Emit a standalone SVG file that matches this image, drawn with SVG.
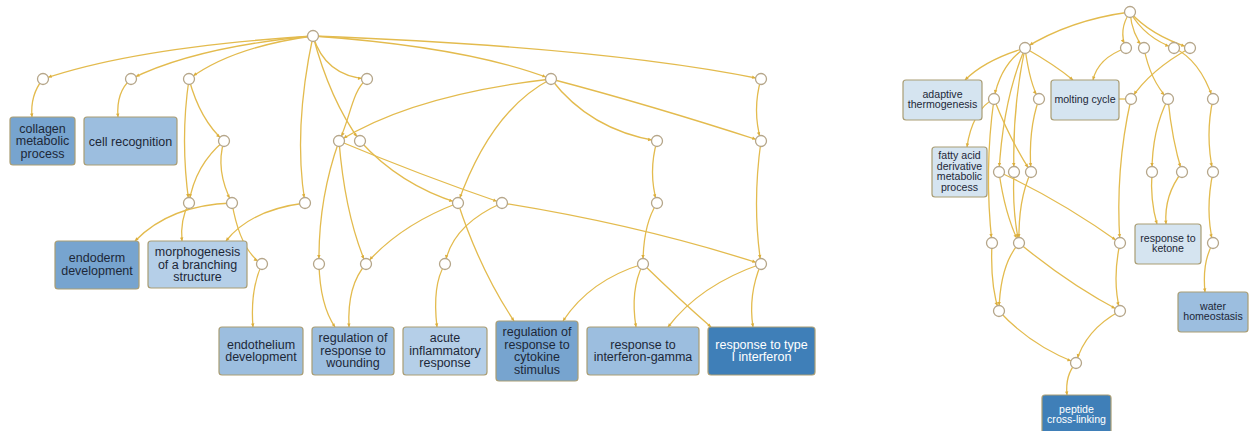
<svg xmlns="http://www.w3.org/2000/svg" width="1249" height="431" viewBox="0 0 1249 431">
<style>
.e{fill:none;stroke:#e3bb4e;stroke-width:1.3}
.ec{marker-end:url(#ac)}
.eb{marker-end:url(#ab)}
.c{fill:#fff;stroke:#b5a68a;stroke-width:1.3}
.b{stroke:#a99d74;stroke-width:1.2}
.b1{fill:#3f7fb8}.b2{fill:#77a4cf}.b3{fill:#9cbedf}.b4{fill:#b5cfe8}.b5{fill:#d5e4f0}
.t{font-family:"Liberation Sans",Arial,sans-serif;font-size:12.5px;fill:#1d2838;text-anchor:middle}
.ts{font-family:"Liberation Sans",Arial,sans-serif;font-size:10.6px;fill:#1d2838;text-anchor:middle}
.w{fill:#fff}
</style>
<defs>
<marker id="ac" markerUnits="userSpaceOnUse" markerWidth="10" markerHeight="10" refX="5.5" refY="0" orient="auto" overflow="visible"><path d="M0,0 L-3.5,-1.7 L-3.5,1.7 Z" fill="#dcae3c"/></marker>
<marker id="ab" markerUnits="userSpaceOnUse" markerWidth="10" markerHeight="10" refX="0" refY="0" orient="auto" overflow="visible"><path d="M0,0 L-3.5,-1.7 L-3.5,1.7 Z" fill="#dcae3c"/></marker>
</defs>
<rect width="1249" height="431" fill="#fff"/>
<g id="connectors">
<path class="e ec" d="M313,36 Q137,47 43,79"/>
<path class="e ec" d="M313,36 Q195,47 131,79"/>
<path class="e ec" d="M313,36 Q232,47 189,79"/>
<path class="e ec" d="M313,36 Q325,76 367,79"/>
<path class="e ec" d="M313,36 Q468,47 551,79"/>
<path class="e ec" d="M313,36 Q604,47 761,79"/>
<path class="e ec" d="M313,36 Q293,130 305,203"/>
<path class="e ec" d="M313,36 Q330,100 360,141"/>
<path class="e ec" d="M367,79 C352,90 350,120 339,141"/>
<path class="e ec" d="M551,79 Q413,95 339,141"/>
<path class="e ec" d="M551,79 Q491,110 458,203"/>
<path class="e ec" d="M551,79 Q590,130 657,141"/>
<path class="e ec" d="M551,79 Q650,105 761,141"/>
<path class="e ec" d="M761,79 Q752,110 761,141"/>
<path class="e ec" d="M761,141 Q752,205 761,264"/>
<path class="e ec" d="M657,141 Q648,172 657,203"/>
<path class="e ec" d="M657,203 Q643,225 643,264"/>
<path class="e ec" d="M502,203 Q640,225 761,264"/>
<path class="e ec" d="M339,141 Q420,175 502,203"/>
<path class="e ec" d="M360,141 Q400,185 458,203"/>
<path class="e ec" d="M339,141 Q318,200 319,264"/>
<path class="e ec" d="M339,141 Q345,215 366,264"/>
<path class="e ec" d="M458,203 Q400,225 366,264"/>
<path class="e ec" d="M502,203 Q452,225 445,264"/>
<path class="e ec" d="M189,79 Q180,140 189,203"/>
<path class="e ec" d="M189,79 Q200,120 224,141"/>
<path class="e ec" d="M224,141 Q195,165 189,203"/>
<path class="e ec" d="M224,141 Q215,170 232,203"/>
<path class="e ec" d="M232,203 Q240,250 262,264"/>
<path class="e eb" d="M43,79 Q30,95 32,117"/>
<path class="e eb" d="M131,79 Q116,92 118,117"/>
<path class="e eb" d="M189,203 Q180,220 182,241"/>
<path class="e eb" d="M232,203 Q170,205 135,241"/>
<path class="e eb" d="M305,203 Q250,210 226,241"/>
<path class="e eb" d="M262,264 Q250,290 253,327"/>
<path class="e eb" d="M319,264 Q320,305 335,327"/>
<path class="e eb" d="M366,264 Q347,285 349,327"/>
<path class="e eb" d="M445,264 Q432,285 437,327"/>
<path class="e eb" d="M458,203 Q480,270 514,321"/>
<path class="e eb" d="M643,264 Q590,280 563,321"/>
<path class="e eb" d="M643,264 Q630,290 636,327"/>
<path class="e eb" d="M761,264 Q700,285 668,327"/>
<path class="e eb" d="M643,264 Q680,300 711,327"/>
<path class="e eb" d="M761,264 Q748,295 753,327"/>
<path class="e ec" d="M1130,12 Q1070,20 1025,48"/>
<path class="e ec" d="M1130,12 Q1118,30 1126,48"/>
<path class="e ec" d="M1130,12 Q1132,35 1144,48"/>
<path class="e ec" d="M1130,12 Q1145,38 1174,48"/>
<path class="e ec" d="M1130,12 Q1150,35 1190,48"/>
<path class="e eb" d="M1025,48 Q985,60 965,80"/>
<path class="e eb" d="M1025,48 Q1055,65 1073,80"/>
<path class="e eb" d="M1126,48 Q1098,58 1093,80"/>
<path class="e ec" d="M1025,48 Q1000,65 994,99"/>
<path class="e ec" d="M1025,48 Q1030,85 1039,99"/>
<path class="e ec" d="M1025,48 Q1012,110 1014,172"/>
<path class="e ec" d="M1025,48 Q1003,100 999,172"/>
<path class="e eb" d="M994,99 C980,105 970,125 967,147"/>
<path class="e ec" d="M994,99 Q984,170 992,243"/>
<path class="e ec" d="M994,99 Q1010,140 1031,172"/>
<path class="e ec" d="M1039,99 Q1028,130 1031,172"/>
<path class="e ec" d="M1190,48 Q1150,70 1131,99"/>
<path class="e" d="M1131,99 L1119,99"/>
<path class="e ec" d="M1144,48 Q1150,80 1168,99"/>
<path class="e ec" d="M1174,48 Q1200,60 1213,99"/>
<path class="e ec" d="M1168,99 Q1152,130 1152,172"/>
<path class="e ec" d="M1168,99 Q1172,140 1182,172"/>
<path class="e ec" d="M1213,99 Q1205,135 1213,172"/>
<path class="e eb" d="M1152,172 Q1150,200 1157,224"/>
<path class="e eb" d="M1182,172 Q1164,195 1166,224"/>
<path class="e ec" d="M1213,172 Q1205,210 1213,243"/>
<path class="e eb" d="M1213,243 Q1202,262 1205,292"/>
<path class="e ec" d="M1131,99 Q1115,170 1120,243"/>
<path class="e ec" d="M999,172 Q1060,200 1120,243"/>
<path class="e ec" d="M999,172 Q1005,215 1019,243"/>
<path class="e ec" d="M1014,172 Q1012,210 1019,243"/>
<path class="e ec" d="M1031,172 Q1018,200 1019,243"/>
<path class="e ec" d="M992,243 Q990,285 999,311"/>
<path class="e ec" d="M1019,243 Q1000,265 999,311"/>
<path class="e ec" d="M1019,243 Q1070,285 1120,311"/>
<path class="e ec" d="M1120,243 Q1112,280 1120,311"/>
<path class="e ec" d="M999,311 Q1030,345 1076,363"/>
<path class="e ec" d="M1120,311 Q1085,330 1076,363"/>
<path class="e eb" d="M1076,363 Q1065,375 1067,395"/>
</g>
<g id="n-R"><circle class="c" cx="313" cy="36" r="5.5"/></g>
<g id="n-A"><circle class="c" cx="43" cy="79" r="5.5"/></g>
<g id="n-B"><circle class="c" cx="131" cy="79" r="5.5"/></g>
<g id="n-C"><circle class="c" cx="189" cy="79" r="5.5"/></g>
<g id="n-D"><circle class="c" cx="367" cy="79" r="5.5"/></g>
<g id="n-E"><circle class="c" cx="551" cy="79" r="5.5"/></g>
<g id="n-F"><circle class="c" cx="761" cy="79" r="5.5"/></g>
<g id="n-G"><circle class="c" cx="224" cy="141" r="5.5"/></g>
<g id="n-H"><circle class="c" cx="339" cy="141" r="5.5"/></g>
<g id="n-I"><circle class="c" cx="360" cy="141" r="5.5"/></g>
<g id="n-J"><circle class="c" cx="657" cy="141" r="5.5"/></g>
<g id="n-K"><circle class="c" cx="761" cy="141" r="5.5"/></g>
<g id="n-L"><circle class="c" cx="189" cy="203" r="5.5"/></g>
<g id="n-M"><circle class="c" cx="232" cy="203" r="5.5"/></g>
<g id="n-N"><circle class="c" cx="305" cy="203" r="5.5"/></g>
<g id="n-O"><circle class="c" cx="458" cy="203" r="5.5"/></g>
<g id="n-P"><circle class="c" cx="502" cy="203" r="5.5"/></g>
<g id="n-Q"><circle class="c" cx="657" cy="203" r="5.5"/></g>
<g id="n-S"><circle class="c" cx="262" cy="264" r="5.5"/></g>
<g id="n-T"><circle class="c" cx="319" cy="264" r="5.5"/></g>
<g id="n-U"><circle class="c" cx="366" cy="264" r="5.5"/></g>
<g id="n-V"><circle class="c" cx="445" cy="264" r="5.5"/></g>
<g id="n-W"><circle class="c" cx="643" cy="264" r="5.5"/></g>
<g id="n-X"><circle class="c" cx="761" cy="264" r="5.5"/></g>
<g id="n-R2"><circle class="c" cx="1130" cy="12" r="5.5"/></g>
<g id="n-1"><circle class="c" cx="1025" cy="48" r="5.5"/></g>
<g id="n-2"><circle class="c" cx="1126" cy="48" r="5.5"/></g>
<g id="n-3"><circle class="c" cx="1144" cy="48" r="5.5"/></g>
<g id="n-4"><circle class="c" cx="1174" cy="48" r="5.5"/></g>
<g id="n-5"><circle class="c" cx="1190" cy="48" r="5.5"/></g>
<g id="n-6"><circle class="c" cx="994" cy="99" r="5.5"/></g>
<g id="n-7"><circle class="c" cx="1039" cy="99" r="5.5"/></g>
<g id="n-8"><circle class="c" cx="1131" cy="99" r="5.5"/></g>
<g id="n-9"><circle class="c" cx="1168" cy="99" r="5.5"/></g>
<g id="n-10"><circle class="c" cx="1213" cy="99" r="5.5"/></g>
<g id="n-11"><circle class="c" cx="999" cy="172" r="5.5"/></g>
<g id="n-12"><circle class="c" cx="1014" cy="172" r="5.5"/></g>
<g id="n-13"><circle class="c" cx="1031" cy="172" r="5.5"/></g>
<g id="n-14"><circle class="c" cx="1152" cy="172" r="5.5"/></g>
<g id="n-15"><circle class="c" cx="1182" cy="172" r="5.5"/></g>
<g id="n-16"><circle class="c" cx="1213" cy="172" r="5.5"/></g>
<g id="n-17"><circle class="c" cx="992" cy="243" r="5.5"/></g>
<g id="n-18"><circle class="c" cx="1019" cy="243" r="5.5"/></g>
<g id="n-19"><circle class="c" cx="1120" cy="243" r="5.5"/></g>
<g id="n-20"><circle class="c" cx="1213" cy="243" r="5.5"/></g>
<g id="n-21"><circle class="c" cx="999" cy="311" r="5.5"/></g>
<g id="n-22"><circle class="c" cx="1120" cy="311" r="5.5"/></g>
<g id="n-23"><circle class="c" cx="1076" cy="363" r="5.5"/></g>
<g id="collagen"><rect class="b b2" x="10" y="117" width="65" height="48" rx="3"/><text class="t" x="42.5" y="132.5">collagen<tspan x="42.5" dy="12.5">metabolic</tspan><tspan x="42.5" dy="12.5">process</tspan></text></g>
<g id="cellrecog"><rect class="b b3" x="84" y="117" width="93" height="48" rx="3"/><text class="t" x="130.5" y="145.5">cell recognition</text></g>
<g id="endoderm"><rect class="b b2" x="55" y="241" width="84" height="48" rx="3"/><text class="t" x="97" y="262">endoderm<tspan x="97" dy="12.5">development</tspan></text></g>
<g id="morphogenesis"><rect class="b b4" x="148" y="241" width="99" height="47" rx="3"/><text class="t" x="197.5" y="256">morphogenesis<tspan x="197.5" dy="12.5">of a branching</tspan><tspan x="197.5" dy="12.5">structure</tspan></text></g>
<g id="endothelium"><rect class="b b3" x="219" y="327" width="84" height="48" rx="3"/><text class="t" x="261" y="348.5">endothelium<tspan x="261" dy="12.5">development</tspan></text></g>
<g id="wounding"><rect class="b b3" x="312" y="327" width="82" height="48" rx="3"/><text class="t" x="353" y="342">regulation of<tspan x="353" dy="12.5">response to</tspan><tspan x="353" dy="12.5">wounding</tspan></text></g>
<g id="acute"><rect class="b b4" x="403" y="327" width="84" height="48" rx="3"/><text class="t" x="445" y="342">acute<tspan x="445" dy="12.5">inflammatory</tspan><tspan x="445" dy="12.5">response</tspan></text></g>
<g id="cytokine"><rect class="b b2" x="496" y="321" width="82" height="60" rx="3"/><text class="t" x="537" y="336">regulation of<tspan x="537" dy="12.5">response to</tspan><tspan x="537" dy="12.5">cytokine</tspan><tspan x="537" dy="12.5">stimulus</tspan></text></g>
<g id="ifngamma"><rect class="b b3" x="587" y="327" width="112" height="48" rx="3"/><text class="t" x="643" y="348.5">response to<tspan x="643" dy="12.5">interferon-gamma</tspan></text></g>
<g id="typeI"><rect class="b b1" x="708" y="327" width="107" height="48" rx="3"/><text class="t w" x="761.5" y="348.5">response to type<tspan x="761.5" dy="12.5">I interferon</tspan></text></g>
<g id="adaptive"><rect class="b b5" x="903" y="80" width="79" height="40" rx="3"/><text class="ts" x="942.5" y="97.5">adaptive<tspan x="942.5" dy="10.6">thermogenesis</tspan></text></g>
<g id="molting"><rect class="b b5" x="1051" y="80" width="68" height="40" rx="3"/><text class="ts" x="1085" y="103">molting cycle</text></g>
<g id="fattyacid"><rect class="b b5" x="932" y="147" width="55" height="50" rx="3"/><text class="ts" x="959.5" y="159">fatty acid<tspan x="959.5" dy="10.6">derivative</tspan><tspan x="959.5" dy="10.6">metabolic</tspan><tspan x="959.5" dy="10.6">process</tspan></text></g>
<g id="ketone"><rect class="b b5" x="1135" y="224" width="66" height="40" rx="3"/><text class="ts" x="1168" y="241.5">response to<tspan x="1168" dy="10.6">ketone</tspan></text></g>
<g id="water"><rect class="b b3" x="1178" y="292" width="70" height="40" rx="3"/><text class="ts" x="1213" y="309.5">water<tspan x="1213" dy="10.6">homeostasis</tspan></text></g>
<g id="peptide"><rect class="b b1" x="1042" y="395" width="69" height="40" rx="3"/><text class="ts w" x="1076.5" y="412.5">peptide<tspan x="1076.5" dy="10.6">cross-linking</tspan></text></g>
</svg>
